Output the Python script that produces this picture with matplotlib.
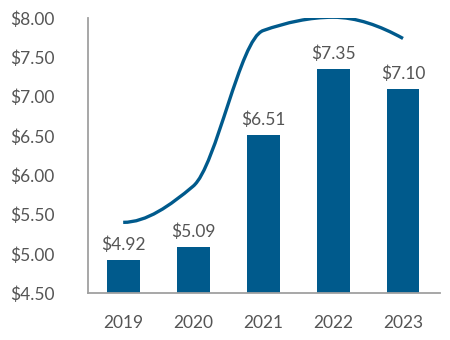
import numpy as np
import matplotlib
matplotlib.use('Agg')
import matplotlib.pyplot as plt
from matplotlib.path import Path
from matplotlib.patches import PathPatch

years = ['2019', '2020', '2021', '2022', '2023']
values = [4.92, 5.09, 6.51, 7.35, 7.10]
trend = [5.40, 5.86, 7.84, 8.01, 7.74]
ticks = [4.50, 5.00, 5.50, 6.00, 6.50, 7.00, 7.50, 8.00]

blue = '#005a8c'
grey_text = '#555555'

plt.rcParams['font.family'] = ['Lato', 'DejaVu Sans']


def pchip_slopes(y):
    # monotone cubic tangents, so the curve keeps its sharp knee
    d = np.diff(y)
    m = np.zeros(len(y))
    for i in range(1, len(y) - 1):
        if d[i - 1] * d[i] > 0:
            m[i] = 2 / (1 / d[i - 1] + 1 / d[i])
    m0 = (3 * d[0] - d[1]) / 2
    m[0] = m0 if m0 * d[0] > 0 else 0
    mn = (3 * d[-1] - d[-2]) / 2
    m[-1] = mn if mn * d[-1] > 0 else 0
    return m


def smooth_path(x, y):
    m = pchip_slopes(np.asarray(y, dtype=float))
    verts = [(x[0], y[0])]
    codes = [Path.MOVETO]
    for i in range(len(x) - 1):
        h = (x[i + 1] - x[i]) / 3
        verts += [(x[i] + h, y[i] + h * m[i]),
                  (x[i + 1] - h, y[i + 1] - h * m[i + 1]),
                  (x[i + 1], y[i + 1])]
        codes += [Path.CURVE4] * 3
    return Path(verts, codes)


fig = plt.figure(figsize=(4.5, 3.4), dpi=100)
ax = fig.add_axes([0.196, 0.138, 0.782, 0.809])

x = np.arange(len(years))
ax.bar(x, values, width=0.47, color=blue, zorder=2)
for xi, v in zip(x, values):
    ax.annotate(f'${v:.2f}', (xi, v), xytext=(0, 5), textcoords='offset points',
                ha='center', va='bottom', fontsize=12.5, color=grey_text)

ax.add_patch(PathPatch(smooth_path(x, trend), facecolor='none', edgecolor=blue,
                       lw=2.4, capstyle='butt', zorder=3))

ax.set_xlim(-0.5, 4.53)
ax.set_ylim(4.5, 8.0)
ax.set_xticks(x)
ax.set_xticklabels(years)
ax.set_yticks(ticks)
ax.set_yticklabels([f'${t:.2f}' for t in ticks])
ax.tick_params(axis='y', length=0, pad=24, labelsize=12.5, labelcolor=grey_text)
ax.tick_params(axis='x', length=0, pad=16, labelsize=12.5, labelcolor=grey_text)

for s in ['top', 'right']:
    ax.spines[s].set_visible(False)
for s in ['left', 'bottom']:
    ax.spines[s].set_color('#a0a0a0')
    ax.spines[s].set_linewidth(1.3)

fig.savefig('out.png', dpi=100)
plt.close(fig)
